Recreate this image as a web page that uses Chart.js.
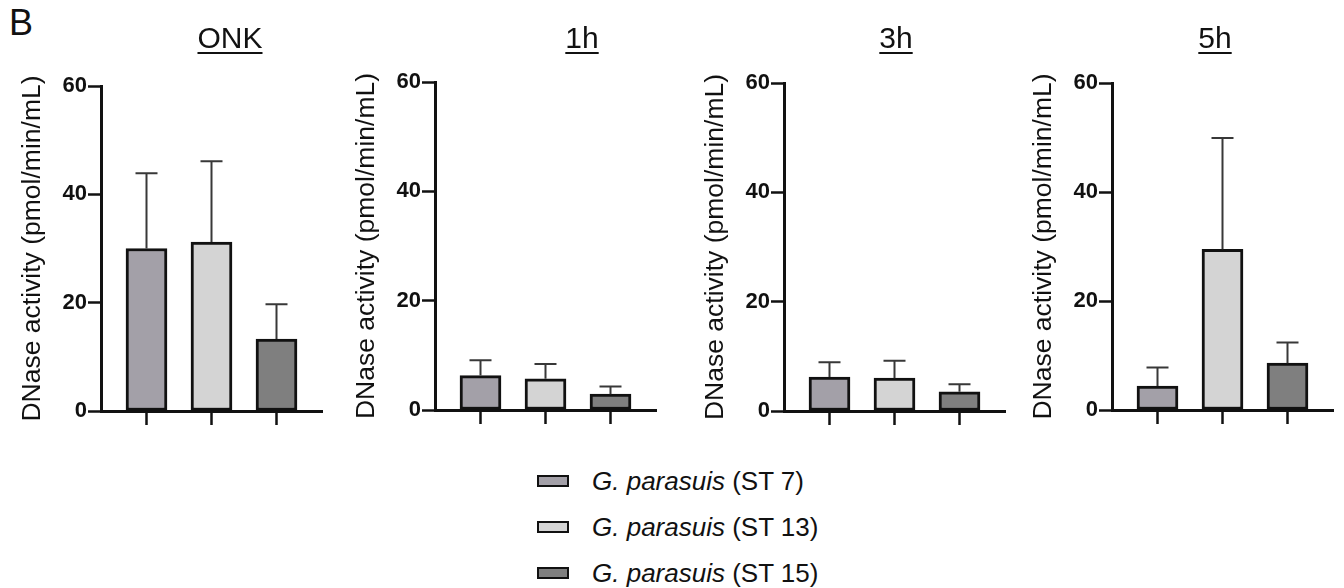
<!DOCTYPE html>
<html>
<head>
<meta charset="utf-8">
<script src="https://cdn.jsdelivr.net/npm/chart.js@4/dist/chart.umd.min.js"></script>
<style>
  html, body { margin: 0; padding: 0; background: #fff; }
  body { width: 1344px; height: 588px; position: relative; overflow: hidden;
         font-family: "Liberation Sans", Arial, sans-serif; color: #111; }
  .panel { position: absolute; top: 0; width: 320px; height: 440px; }
  .ptitle { position: absolute; top: 23px; width: 200px; text-align: center; font-size: 30px; line-height: 30px;
            text-decoration: underline; text-decoration-thickness: 2px; text-underline-offset: 4px; color: #111; }
  .letter { position: absolute; left: 9px; top: 5px; font-size: 36px; line-height: 36px; color: #111; }
  .lrow { position: absolute; left: 537px; height: 30px; display: flex; align-items: center; }
  .lbox { width: 32px; height: 12px; box-sizing: border-box; border: 2.5px solid #111; }
  .ltext { margin-left: 23px; font-size: 26px; line-height: 30px; color: #111; white-space: nowrap; }
</style>
</head>
<body>
<div class="letter">B</div>
<div id="root"></div>
<script>
// ---------- data ----------
const categories = ['ST 7', 'ST 13', 'ST 15'];
const panelTitles = ['ONK', '1h', '3h', '5h'];
const yTicks = [0, 20, 40, 60];
const onkMean = [30.0, 31.2, 13.3];
const onkSD   = [13.9, 14.9, 6.4];
const h1Mean  = [6.3, 5.7, 2.9];
const h1SD    = [2.8, 2.7, 1.4];
const h3Mean  = [6.2, 6.0, 3.5];
const h3SD    = [2.7, 3.2, 1.4];
const h5Mean  = [4.4, 29.5, 8.6];
const h5SD    = [3.4, 20.4, 3.8];
const legendLabels = ['G. parasuis (ST 7)', 'G. parasuis (ST 13)', 'G. parasuis (ST 15)'];

// ---------- styles / layout ----------
const barColors = ['#a3a0a8', '#d4d4d4', '#7f7f7f'];
const FONT = '"Liberation Sans", Arial, sans-serif';
const panelMeans = [onkMean, h1Mean, h3Mean, h5Mean];
const panelSDs = [onkSD, h1SD, h3SD, h5SD];
const axisX = [101, 435, 784, 1112];
const areaTop = [86, 82, 83, 83];
const areaBottom = [411, 410, 411, 410];
const titleCenter = [230, 582, 896, 1215];
const Y_W = 95, CANVAS_H = 440, CANVAS_W = 320;

const errorBars = {
  id: 'errorBars',
  afterDatasetsDraw(chart) {
    const ctx = chart.ctx;
    const y = chart.scales.y;
    const ds = chart.data.datasets[0];
    const meta = chart.getDatasetMeta(0);
    ctx.save();
    ctx.strokeStyle = '#383838';
    ctx.lineWidth = 2;
    meta.data.forEach((bar, i) => {
      const v = ds.data[i].y;
      const top = y.getPixelForValue(v + ds.sd[i]);
      ctx.beginPath();
      ctx.moveTo(bar.x, bar.y);
      ctx.lineTo(bar.x, top);
      ctx.moveTo(bar.x - 11, top);
      ctx.lineTo(bar.x + 11, top);
      ctx.stroke();
    });
    ctx.restore();
  }
};

const root = document.getElementById('root');
panelTitles.forEach((title, p) => {
  const div = document.createElement('div');
  div.className = 'panel';
  div.style.left = (axisX[p] - Y_W) + 'px';
  const cv = document.createElement('canvas');
  cv.width = CANVAS_W; cv.height = CANVAS_H;
  cv.style.width = CANVAS_W + 'px'; cv.style.height = CANVAS_H + 'px';
  div.appendChild(cv);
  root.appendChild(div);

  const t = document.createElement('div');
  t.className = 'ptitle';
  t.textContent = title;
  t.style.left = (titleCenter[p] - 100) + 'px';
  document.body.appendChild(t);

  new Chart(cv, {
    type: 'bar',
    data: {
      datasets: [{
        data: categories.map((c, i) => ({ x: i, y: panelMeans[p][i] })),
        sd: panelSDs[p],
        backgroundColor: barColors,
        borderColor: '#111',
        borderWidth: 3,
        borderSkipped: false,
        barThickness: 41
      }]
    },
    options: {
      responsive: false,
      animation: false,
      devicePixelRatio: 1,
      layout: { padding: { top: areaTop[p], right: 4, left: 0, bottom: 0 } },
      plugins: { legend: { display: false }, tooltip: { enabled: false }, title: { display: false } },
      scales: {
        x: {
          type: 'linear',
          min: -0.7, max: 2.7,
          offset: false,
          afterBuildTicks: s => { s.ticks = categories.map((c, i) => ({ value: i })); },
          afterFit: s => { s.height = CANVAS_H - areaBottom[p]; },
          ticks: { callback: () => '', font: { size: 4 } },
          grid: { offset: false, drawOnChartArea: false, drawTicks: true, tickLength: 14, tickWidth: 2.5, tickColor: '#111' },
          border: { display: true, color: '#111', width: 3 }
        },
        y: {
          min: 0, max: 60,
          afterBuildTicks: s => { s.ticks = yTicks.map(v => ({ value: v })); },
          afterFit: s => { s.width = Y_W; },
          ticks: { color: '#111', padding: 1, font: { family: FONT, size: 22, weight: 'bold' } },
          grid: { drawOnChartArea: false, drawTicks: true, tickLength: 13, tickWidth: 2.5, tickColor: '#111' },
          border: { display: true, color: '#111', width: 3 },
          title: {
            display: true,
            text: 'DNase activity (pmol/min/mL)',
            color: '#111',
            padding: { top: 13, bottom: 0 },
            font: { family: FONT, size: 26.5, lineHeight: 1 }
          }
        }
      }
    },
    plugins: [errorBars]
  });
});

// legend
const legendCenters = [481, 527, 573];
legendLabels.forEach((lab, i) => {
  const row = document.createElement('div');
  row.className = 'lrow';
  row.style.top = (legendCenters[i] - 15) + 'px';
  const box = document.createElement('div');
  box.className = 'lbox';
  box.style.background = barColors[i];
  const txt = document.createElement('div');
  txt.className = 'ltext';
  const m = lab.match(/^(G\. parasuis)(.*)$/);
  const it = document.createElement('i');
  it.textContent = m[1];
  txt.appendChild(it);
  txt.appendChild(document.createTextNode(m[2]));
  row.appendChild(box);
  row.appendChild(txt);
  document.body.appendChild(row);
});
Chart.defaults.font.family = FONT;
</script>
</body>
</html>
